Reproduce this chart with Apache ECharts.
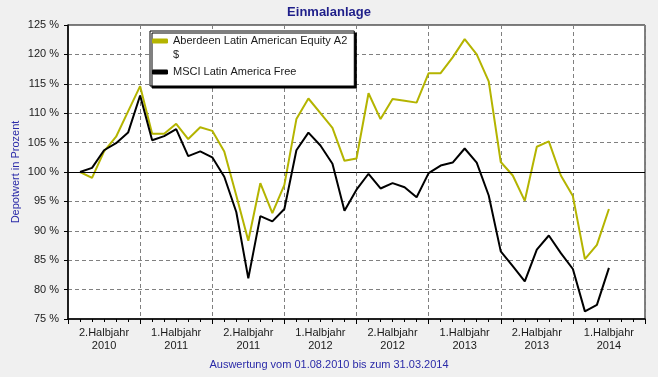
<!DOCTYPE html>
<html>
<head>
<meta charset="utf-8">
<script src="https://cdn.jsdelivr.net/npm/echarts@6/dist/echarts.min.js"></script>
<style>
  html, body { margin: 0; padding: 0; background: #f0f0f0; }
  #chart { width: 658px; height: 377px; }
</style>
</head>
<body>
<div id="chart"></div>
<script>
// Halbjahres-Beschriftung der x-Achse (je 6 Monate ab 01.07.2010)
const halfYears = [
  '2.Halbjahr\n2010', '1.Halbjahr\n2011', '2.Halbjahr\n2011', '1.Halbjahr\n2012',
  '2.Halbjahr\n2012', '1.Halbjahr\n2013', '2.Halbjahr\n2013', '1.Halbjahr\n2014'
]

// Monatswerte in Prozent, 01.08.2010 .. 01.04.2014
const aberdeen = [
  100, 99.0, 103.5, 106.0, 110.3, 114.6, 106.5, 106.5, 108.2, 105.6,
  107.6, 107.0, 103.5, 96.0, 88.3, 98.1, 93.0, 97.8, 109.0, 112.5,
  110.0, 107.5, 101.9, 102.3, 113.4, 109.0, 112.4, 112.1, 111.8, 116.8,
  116.8, 119.5, 122.6, 120.0, 115.4, 101.7, 99.4, 95.1, 104.3, 105.2,
  99.4, 95.9, 85.2, 87.6, 93.7
]
const msci = [
  100, 100.7, 103.7, 104.9, 106.7, 113.0, 105.4, 106.1, 107.3, 102.7,
  103.5, 102.5, 99.2, 93.2, 81.9, 92.5, 91.6, 93.7, 103.7, 106.7,
  104.5, 101.4, 93.4, 97.0, 99.7, 97.2, 98.1, 97.4, 95.7, 99.8,
  101.1, 101.6, 104.0, 101.6, 96.0, 86.5, 84.0, 81.4, 86.8, 89.2,
  86.2, 83.5, 76.3, 77.4, 83.7
]

// x = Monate seit 01.07.2010
const toPoints = arr => arr.map((v, i) => [i + 1, v])

const font = 'Liberation Sans, Arial, sans-serif'
const gridDash = { color: '#808080', type: [4, 3], width: 1 }

const chart = echarts.init(document.getElementById('chart'))
chart.setOption({
  backgroundColor: '#f0f0f0',
  animation: false,
  textStyle: { fontFamily: font },
  title: [
    {
      text: 'Einmalanlage', left: 'center', top: 6, padding: 0,
      textStyle: { fontSize: 13, fontWeight: 'bold', color: '#1f1f8a' }
    },
    {
      text: 'Auswertung vom 01.08.2010 bis zum 31.03.2014', left: 'center', top: 359, padding: 0,
      textStyle: { fontSize: 11, fontWeight: 'normal', color: '#2a2aa8' }
    }
  ],
  legend: {
    left: 150, top: 31, orient: 'vertical',
    itemGap: 17, itemWidth: 16, itemHeight: 5, icon: 'roundRect',
    backgroundColor: '#fff', borderColor: '#000', borderWidth: 1,
    shadowColor: '#000', shadowOffsetX: 2, shadowOffsetY: 2, shadowBlur: 0,
    padding: [3, 7, 7, 2],
    textStyle: { fontSize: 11, color: '#1a1a1a', lineHeight: 14 },
    data: ['Aberdeen Latin American Equity A2', 'MSCI Latin America Free']
  },
  graphic: [
    { type: 'text', z: 100, left: 173, top: 49, style: { text: '$', fontSize: 11, fill: '#1a1a1a', fontFamily: font } },
    {
      type: 'text', z: 100, x: 16, y: 172, rotation: Math.PI / 2,
      style: { text: 'Depotwert in Prozent', fontSize: 11, fill: '#2a2aa8', align: 'center', verticalAlign: 'middle', fontFamily: font }
    }
  ],
  grid: {
    left: 68, right: 13, top: 25, bottom: 58,
    show: true, backgroundColor: '#fff', borderColor: '#000', borderWidth: 1
  },
  xAxis: [
    {
      type: 'value', min: 0, max: 48, interval: 6,
      axisLabel: { show: false },
      axisLine: { onZero: false, lineStyle: { color: '#000', width: 1.5 } },
      axisTick: { length: 5, lineStyle: { color: '#000' } },
      minorTick: { show: true, splitNumber: 6, length: 3, lineStyle: { color: '#000' } },
      splitLine: { show: true, lineStyle: gridDash }
    },
    {
      type: 'category', data: halfYears, position: 'bottom', boundaryGap: true,
      axisLine: { show: false }, axisTick: { show: false }, splitLine: { show: false },
      axisLabel: { margin: 7, fontSize: 11, lineHeight: 13.5, color: '#1a1a1a' }
    }
  ],
  yAxis: {
    type: 'value', min: 75, max: 125, interval: 5,
    axisLabel: { formatter: '{value} %', fontSize: 11, color: '#1a1a1a', margin: 9 },
    axisLine: { show: true, onZero: false, lineStyle: { color: '#000', width: 1.5 } },
    axisTick: { show: true, length: 4, lineStyle: { color: '#000' } },
    splitLine: { show: true, lineStyle: gridDash }
  },
  series: [
    {
      type: 'line', name: 'Aberdeen Latin American Equity A2',
      data: toPoints(aberdeen), symbol: 'none',
      lineStyle: { color: '#b4b400', width: 2 }, itemStyle: { color: '#b4b400' }
    },
    {
      type: 'line', name: 'MSCI Latin America Free',
      data: toPoints(msci), symbol: 'none',
      lineStyle: { color: '#000', width: 2 }, itemStyle: { color: '#000' },
      markLine: {
        silent: true, symbol: 'none', label: { show: false },
        lineStyle: { color: '#000', type: 'solid', width: 1 },
        data: [{ yAxis: 100 }]
      }
    }
  ]
})
</script>
</body>
</html>
